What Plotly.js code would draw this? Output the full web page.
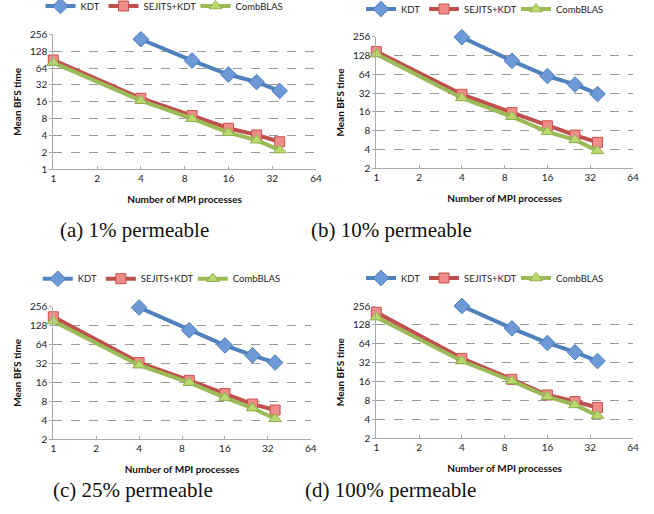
<!DOCTYPE html>
<html><head><meta charset="utf-8">
<script src="https://cdn.plot.ly/plotly-3.0.1.min.js"></script>
<style>html,body{margin:0;padding:0;background:#fff}#chart{width:654px;height:514px}</style>
</head><body><div id="chart"></div>
<script>
const procs = [1, 4, 9, 16, 25, 36];
const procsKDT = [4, 9, 16, 25, 36];
const seriesNames = ["KDT", "SEJITS+KDT", "CombBLAS"];
const xTicks = [1, 2, 4, 8, 16, 32, 64];
const captions = ["(a) 1% permeable", "(b) 10% permeable", "(c) 25% permeable", "(d) 100% permeable"];

// panel (a) 1%
const kdtA = [209, 87, 49, 36, 25];
const sejA = [89, 18.5, 9.1, 5.4, 4.1, 3.1];
const cbA = [80, 16.8, 8, 4.5, 3.3, 2.2];
// panel (b) 10%
const kdtB = [251, 105, 60, 44, 31];
const sejB = [148, 30.6, 15.6, 9.6, 6.8, 5.2];
const cbB = [135, 26.7, 13.4, 7.7, 5.7, 3.8];
// panel (c) 25%
const kdtC = [249, 108, 62, 43, 33];
const sejC = [177, 33, 17.2, 10.6, 7.2, 5.8];
const cbC = [151, 30, 15.8, 9.1, 6.2, 4.2];
// panel (d) 100%
const kdtD = [256, 113, 66, 47, 34];
const sejD = [203, 37.5, 17.4, 9.8, 7.7, 6.2];
const cbD = [170, 34, 16.4, 9.2, 6.8, 4.6];

const yTicksA = [1, 2, 4, 8, 16, 32, 64, 128, 256];
const yTicksB = [2, 4, 8, 16, 32, 64, 128, 256];

const panels = [
  {k: kdtA, s: sejA, c: cbA, yt: yTicksA},
  {k: kdtB, s: sejB, c: cbB, yt: yTicksB},
  {k: kdtC, s: sejC, c: cbC, yt: yTicksB},
  {k: kdtD, s: sejD, c: cbD, yt: yTicksB}
];

const W = 654, H = 514;
// plot-area pixel boxes [x0,x1,y0(top),y1(bottom)]
const boxes = [
  [53.3, 316, 34.3, 169.3],
  [376.3, 633, 36.7, 168.3],
  [53.3, 310.7, 306.7, 439],
  [376.3, 633, 306, 438.3]
];
// legend row centre (x, y) per panel and item offsets from that centre
const legendCentre = [[166.5, 9], [487, 12], [163.8, 281.7], [487, 281]];
const legendOffsets = [-118, -55, 37];
const captionPos = [[134, 230], [391, 230], [133, 490], [390, 490]];

const FONT = "Lato, 'Liberation Sans', sans-serif";
const styles = [
  {line: "#4f81bd", fill: "#6d9ad6", border: "#4a7cbc", symbol: "diamond", size: 12},
  {line: "#c0504d", fill: "#f08c89", border: "#c9504d", symbol: "square", size: 10},
  {line: "#9bbb59", fill: "#b9d86e", border: "#8fb04c", symbol: "triangle-up", size: 11}
];

const data = [];
const layout = {
  width: W, height: H,
  margin: {l: 0, r: 0, t: 0, b: 0, autoexpand: false},
  paper_bgcolor: "#fff", plot_bgcolor: "#fff",
  font: {family: FONT, size: 10, color: "#222"},
  showlegend: true,
  annotations: []
};

let legCount = 0;
panels.forEach((p, i) => {
  const n = i + 1;
  const xa = n === 1 ? "x" : "x" + n;
  const ya = n === 1 ? "y" : "y" + n;
  const ys = [p.k, p.s, p.c];
  const xs = [procsKDT, procs, procs];
  ys.forEach((yv, j) => {
    const st = styles[j];
    legCount++;
    const leg = legCount === 1 ? "legend" : "legend" + legCount;
    data.push({
      type: "scatter", mode: "lines+markers",
      x: xs[j], y: yv, xaxis: xa, yaxis: ya,
      name: seriesNames[j], legend: leg, showlegend: true,
      line: {color: st.line, width: 4},
      marker: {symbol: st.symbol, size: st.size, color: st.fill, line: {color: st.border, width: 1}},
      cliponaxis: false
    });
    const lx = legendCentre[i][0] + legendOffsets[j] - 8;
    const ly = legendCentre[i][1] - 17.5;
    layout[leg] = {
      orientation: "h",
      x: lx / W, y: 1 - ly / H,
      xanchor: "left", yanchor: "top",
      font: {family: FONT, size: 9.5, color: "#222"},
      bgcolor: "rgba(0,0,0,0)", itemwidth: 30
    };
  });
  const b = boxes[i];
  const yMin = p.yt[0];
  layout["xaxis" + (n === 1 ? "" : n)] = {
    type: "log", anchor: ya,
    domain: [b[0] / W, b[1] / W],
    range: [0, Math.log10(64)],
    tickvals: xTicks, ticktext: xTicks.map(String),
    showgrid: false, zeroline: false,
    showline: true, linecolor: "#aaaaaa", linewidth: 1,
    ticks: "inside", ticklen: 3, tickcolor: "#aaaaaa",
    tickfont: {family: FONT, size: 10, color: "#222"},
    title: {text: "<b>Number of MPI processes</b>", font: {family: FONT, size: 10, color: "#111"}, standoff: 12}
  };
  layout["yaxis" + (n === 1 ? "" : n)] = {
    type: "log", anchor: xa,
    domain: [1 - b[3] / H, 1 - b[2] / H],
    range: [Math.log10(yMin), Math.log10(256)],
    tickvals: p.yt, ticktext: p.yt.map(String),
    showgrid: true, gridcolor: "#9a9a9a", griddash: "dash", gridwidth: 1,
    zeroline: false,
    showline: true, linecolor: "#aaaaaa", linewidth: 1,
    ticks: "outside", ticklen: 3, tickcolor: "#aaaaaa",
    tickfont: {family: FONT, size: 10, color: "#222"},
    title: {text: "<b>Mean BFS time</b>", font: {family: FONT, size: 10, color: "#111"}, standoff: 6}
  };
  layout.annotations.push({
    xref: "paper", yref: "paper",
    x: captionPos[i][0] / W, y: 1 - captionPos[i][1] / H,
    xanchor: "center", yanchor: "middle",
    text: captions[i], showarrow: false,
    font: {family: "'Liberation Serif', 'DejaVu Serif', serif", size: 21, color: "#111"}
  });
});

Plotly.newPlot("chart", data, layout, {displayModeBar: false, staticPlot: true});
</script>
</body></html>
